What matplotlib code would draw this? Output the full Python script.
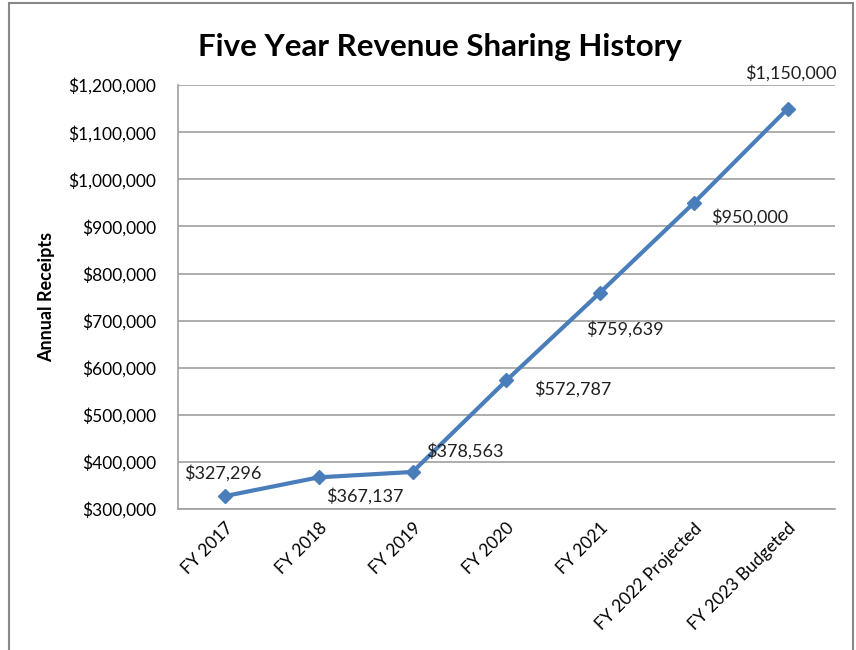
import matplotlib.pyplot as plt
from matplotlib.patches import Rectangle
from matplotlib.ticker import FuncFormatter

# <codecell>
'''DATA'''
years = ['FY 2017', 'FY 2018', 'FY 2019', 'FY 2020', 'FY 2021',
         'FY 2022 Projected', 'FY 2023 Budgeted']
receipts = [327296, 367137, 378563, 572787, 759639, 950000, 1150000]
# label offsets in pixels from each point
label_offsets = [(-2, 23), (46, -19), (52, 21), (66, -9),
                 (25, -37), (56, -14), (3, 36)]

# <codecell>
'''PLOT'''
plt.rcParams['font.family'] = ['Lato', 'DejaVu Sans']
line_color = '#4A7EBB'
grid_color = '#A0A0A0'

fig = plt.figure(figsize=(8.56, 6.5), dpi=100)
ax = fig.add_axes([0.208, 0.217, 0.767, 0.652])

x = list(range(len(years)))
ax.plot(x, receipts, color=line_color, linewidth=3,
        marker='D', markersize=7, zorder=3)

for i, val in enumerate(receipts):
    ax.annotate('${:,.0f}'.format(val), (i, val),
                xytext=label_offsets[i], textcoords='offset pixels',
                ha='center', va='center', fontsize=13, color='#202020')

ax.set_xlim(-0.5, len(years) - 0.5)
ax.set_ylim(300000, 1200000)
ax.set_yticks(range(300000, 1200001, 100000))
ax.yaxis.set_major_formatter(FuncFormatter(lambda v, p: '${:,.0f}'.format(v)))
ax.set_xticks(x)
ax.set_xticklabels(years, rotation=45, ha='right', rotation_mode='anchor',
                   fontsize=12.5)
ax.tick_params(axis='y', labelsize=12.5, length=0, pad=16)
ax.tick_params(axis='x', length=0, pad=8)
ax.grid(axis='y', color=grid_color, linewidth=1.2)
ax.set_axisbelow(True)
for s in ['top', 'right']:
    ax.spines[s].set_visible(False)
for s in ['left', 'bottom']:
    ax.spines[s].set_color(grid_color)
    ax.spines[s].set_linewidth(1.2)

ax.set_ylabel('Annual Receipts', fontsize=13, fontweight='bold', labelpad=9)
fig.text(0.514, 0.927, 'Five Year Revenue Sharing History',
         ha='center', va='center', fontsize=22.5, fontweight='bold')

# outer chart border
fig.patches.append(Rectangle((0.011, -0.05), 0.986, 1.045,
                             transform=fig.transFigure, fill=False,
                             edgecolor='#888888', linewidth=1.5))

plt.savefig('out.png', dpi=100)
